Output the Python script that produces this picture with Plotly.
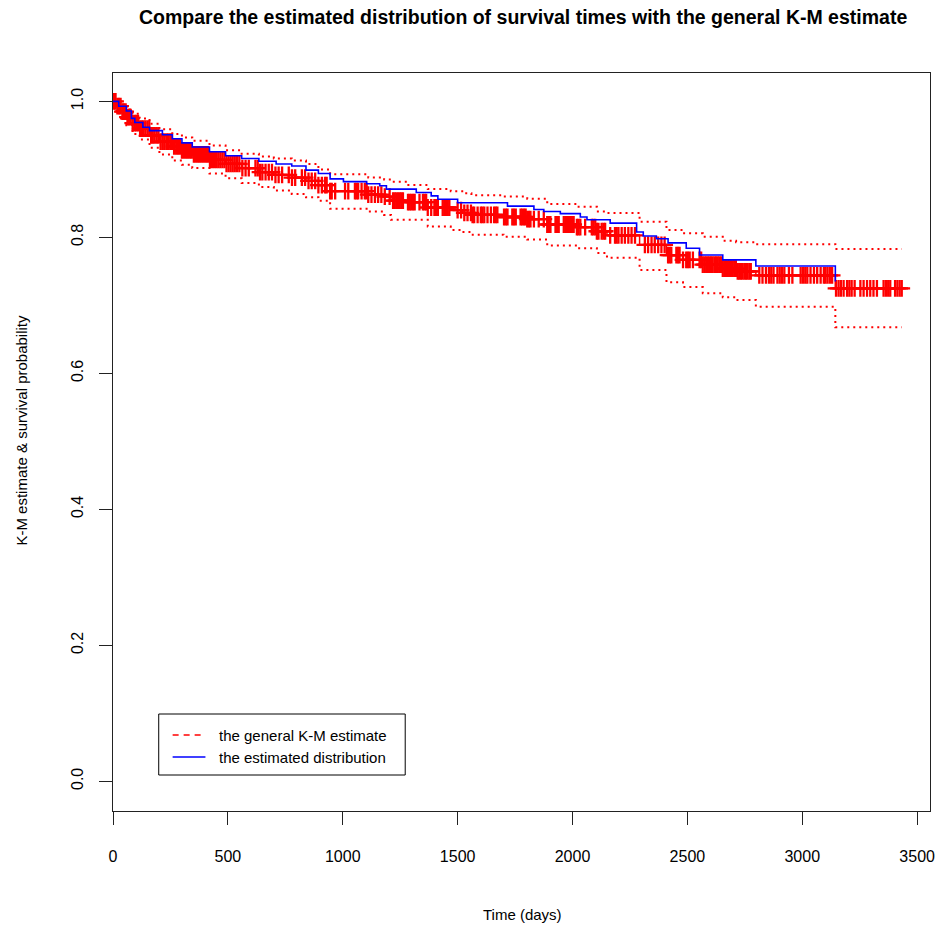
import numpy as np
import plotly.graph_objects as go

# ---- figure geometry (pixels) ----
W, H = 940, 925
ML, MR, MT, MB = 113, 5, 73, 114
PW, PH = W - ML - MR, H - MT - MB

# ---- Kaplan-Meier estimate: event days, survival and 95% limits ----
event_days = [0, 15, 35, 58, 85, 116, 159, 202, 258, 300, 345, 420, 490, 560,
              635, 700, 778, 840, 894, 945, 1111, 1180, 1210, 1280, 1370, 1470,
              1520, 1560, 1700, 1803, 1890, 2019, 2106, 2150, 2292, 2409, 2481,
              2567, 2654, 2712, 2798, 3144]
km_surv = [1.000, 0.993, 0.985, 0.977, 0.968, 0.960, 0.950, 0.941, 0.934, 0.928,
           0.922, 0.914, 0.908, 0.902, 0.896, 0.892, 0.888, 0.883, 0.877, 0.868,
           0.863, 0.860, 0.854, 0.852, 0.844, 0.840, 0.836, 0.833, 0.830, 0.827,
           0.819, 0.815, 0.809, 0.803, 0.789, 0.774, 0.767, 0.760, 0.754, 0.750,
           0.744, 0.725]
km_lower = [1.000, 0.985, 0.975, 0.965, 0.952, 0.944, 0.932, 0.922, 0.913, 0.907,
            0.902, 0.894, 0.887, 0.880, 0.874, 0.869, 0.864, 0.859, 0.854, 0.842,
            0.838, 0.833, 0.826, 0.826, 0.816, 0.811, 0.808, 0.804, 0.801, 0.797,
            0.788, 0.784, 0.777, 0.770, 0.752, 0.734, 0.727, 0.718, 0.712, 0.708,
            0.698, 0.668]
km_upper = [1.000, 0.999, 0.995, 0.988, 0.982, 0.975, 0.967, 0.959, 0.952, 0.947,
            0.942, 0.935, 0.928, 0.923, 0.919, 0.916, 0.913, 0.908, 0.900, 0.893,
            0.888, 0.885, 0.882, 0.877, 0.871, 0.868, 0.865, 0.862, 0.860, 0.857,
            0.849, 0.845, 0.838, 0.836, 0.823, 0.811, 0.806, 0.801, 0.795, 0.793,
            0.790, 0.783]
last_day = 3433

# ---- censored observations (days) ----
censor_days = [
    4, 11, 19, 26, 33, 41, 48, 55, 63, 70, 77, 86, 94, 101, 109, 118, 126, 133,
    141, 150, 158, 166, 173, 181, 190, 198, 207, 215, 223, 232, 240, 249, 257,
    266, 275, 283, 291, 300, 309, 318, 326, 335, 343, 352, 361, 370, 378, 387,
    396, 405, 413, 422, 431, 440, 449, 458, 467, 476, 485, 494, 503, 512, 521,
    530, 540, 550, 563, 577, 591, 620, 630, 640, 650, 664, 678, 692, 707, 721,
    736, 765, 779, 793, 822, 836, 851, 865, 880, 894, 909, 923, 930, 945, 952,
    967, 1010, 1024, 1053, 1060, 1067, 1082, 1096, 1104, 1111, 1125, 1140, 1154,
    1168, 1183, 1204, 1219, 1226, 1233, 1241, 1248, 1255, 1262, 1284, 1291, 1298,
    1306, 1313, 1334, 1349, 1356, 1363, 1370, 1385, 1399, 1406, 1414, 1435, 1442,
    1450, 1457, 1464, 1500, 1515, 1529, 1543, 1558, 1565, 1572, 1587, 1601, 1608,
    1616, 1630, 1645, 1659, 1666, 1673, 1702, 1710, 1717, 1738, 1745, 1753, 1774,
    1781, 1789, 1796, 1803, 1810, 1817, 1832, 1853, 1875, 1890, 1897, 1904, 1926,
    1933, 1940, 1962, 1969, 1976, 1984, 1991, 1998, 2005, 2019, 2026, 2034, 2055,
    2084, 2091, 2099, 2106, 2113, 2127, 2135, 2142, 2164, 2185, 2192, 2200, 2214,
    2228, 2243, 2257, 2272, 2315, 2329, 2344, 2358, 2373, 2387, 2401, 2416, 2423,
    2430, 2452, 2459, 2466, 2481, 2495, 2502, 2510, 2524, 2553, 2560, 2567, 2575,
    2582, 2589, 2596, 2603, 2610, 2618, 2625, 2632, 2639, 2647, 2654, 2661, 2668,
    2676, 2683, 2690, 2697, 2704, 2711, 2719, 2726, 2733, 2740, 2748, 2755, 2762,
    2770, 2776, 2813, 2827, 2842, 2855, 2865, 2875, 2892, 2902, 2912, 2922, 2942,
    2957, 2993, 3003, 3013, 3022, 3036, 3051, 3065, 3080, 3094, 3101, 3110, 3120,
    3130, 3147, 3158, 3168, 3180, 3195, 3205, 3215, 3228, 3253, 3267, 3282, 3296,
    3310, 3325, 3354, 3364, 3374, 3383, 3404, 3414, 3424, 3433]

# ---- estimated (model-based) survival distribution ----
model_days = [0, 25, 58, 80, 95, 130, 159, 215, 258, 300, 345, 420, 490, 560,
              635, 710, 778, 840, 894, 945, 1003, 1104, 1161, 1190, 1320, 1385,
              1414, 1500, 1717, 1832, 1875, 1947, 2034, 2063, 2164, 2279, 2308,
              2365, 2416, 2495, 2553, 2654, 2798, 3144]
model_surv = [1.000, 0.993, 0.986, 0.975, 0.969, 0.962, 0.957, 0.951, 0.945,
              0.939, 0.933, 0.926, 0.920, 0.916, 0.912, 0.908, 0.905, 0.899,
              0.894, 0.886, 0.882, 0.879, 0.876, 0.871, 0.866, 0.861, 0.856,
              0.851, 0.846, 0.841, 0.838, 0.835, 0.830, 0.826, 0.821, 0.808,
              0.802, 0.798, 0.792, 0.784, 0.774, 0.767, 0.758, 0.735]

x_ticks = [0, 500, 1000, 1500, 2000, 2500, 3000, 3500]
y_ticks = [0.0, 0.2, 0.4, 0.6, 0.8, 1.0]
y_ticktext = ["0.0", "0.2", "0.4", "0.6", "0.8", "1.0"]

TITLE = "Compare the estimated distribution of survival times with the general K-M estimate"
X_TITLE = "Time (days)"
Y_TITLE = "K-M estimate & survival probability"
LEGEND_LABELS = ["the general K-M estimate", "the estimated distribution"]

RED, BLUE = "#ff0000", "#0000ff"
FONT = "Liberation Sans, Arial, Helvetica, sans-serif"


def step_ext(values):
    """Extend a step series so its last level runs to the final follow-up day."""
    return list(values) + [values[-1]]


km_x = event_days + [last_day]

# survival level at each censored time
idx = np.searchsorted(np.array(event_days), np.array(censor_days), side="right") - 1
censor_surv = np.array(km_surv)[idx]

fig = go.Figure()

for band in (km_lower, km_upper):
    fig.add_trace(go.Scatter(
        x=km_x, y=step_ext(band), mode="lines", line_shape="hv",
        line=dict(color=RED, width=2, dash="2px,4px"),
        showlegend=False, hoverinfo="skip"))

fig.add_trace(go.Scatter(
    x=km_x, y=step_ext(km_surv), mode="lines", line_shape="hv",
    line=dict(color=RED, width=1.5), showlegend=False))

fig.add_trace(go.Scatter(
    x=censor_days, y=censor_surv, mode="markers",
    marker=dict(symbol="cross-thin", size=12, color=RED,
                line=dict(color=RED, width=2.3)),
    showlegend=False))

fig.add_trace(go.Scatter(
    x=model_days, y=model_surv, mode="lines", line_shape="hv",
    line=dict(color=BLUE, width=1.6), showlegend=False))


def px_x(p):
    return (p - ML) / PW


def px_y(p):
    return (H - MB - p) / PH


# legend box drawn in paper space
shapes = [
    dict(type="rect", xref="paper", yref="paper",
         x0=px_x(159), x1=px_x(407), y0=px_y(775), y1=px_y(714),
         line=dict(color="black", width=1), fillcolor="white"),
    dict(type="line", xref="paper", yref="paper",
         x0=px_x(173), x1=px_x(206), y0=px_y(735), y1=px_y(735),
         line=dict(color=RED, width=1.3, dash="6px,5px")),
    dict(type="line", xref="paper", yref="paper",
         x0=px_x(173), x1=px_x(206), y0=px_y(757), y1=px_y(757),
         line=dict(color=BLUE, width=1.3)),
]

annotations = [
    dict(text=LEGEND_LABELS[0], xref="paper", yref="paper",
         x=px_x(218), y=px_y(735), xanchor="left", yanchor="middle",
         showarrow=False, font=dict(size=15, color="black", family=FONT)),
    dict(text=LEGEND_LABELS[1], xref="paper", yref="paper",
         x=px_x(218), y=px_y(757), xanchor="left", yanchor="middle",
         showarrow=False, font=dict(size=15, color="black", family=FONT)),
    dict(text=X_TITLE, xref="paper", yref="paper",
         x=px_x(525), y=px_y(915), xanchor="center", yanchor="middle",
         showarrow=False, font=dict(size=15, color="black", family=FONT)),
    dict(text=Y_TITLE, xref="paper", yref="paper",
         x=px_x(20), y=px_y(430), xanchor="center", yanchor="middle",
         textangle=-90, showarrow=False,
         font=dict(size=15, color="black", family=FONT)),
    dict(text="<b>" + TITLE + "</b>", xref="paper", yref="paper",
         x=px_x(526), y=px_y(17), xanchor="center", yanchor="middle",
         showarrow=False, font=dict(size=19.5, color="black", family=FONT)),
]

axis_common = dict(
    showgrid=False, zeroline=False, showline=True, mirror=True,
    linecolor="#222222", linewidth=1, ticks="outside", ticklen=13,
    tickwidth=1, tickcolor="#222222",
    tickfont=dict(size=16, color="black", family=FONT),
)

fig.update_layout(
    width=W, height=H,
    margin=dict(l=ML, r=MR, t=MT, b=MB, pad=0),
    paper_bgcolor="white", plot_bgcolor="white",
    font=dict(family=FONT, color="black"),
    xaxis=dict(range=[0, 3556], tickmode="array", tickvals=x_ticks,
               ticklabelstandoff=18, **axis_common),
    yaxis=dict(range=[-0.0437, 1.0418], tickmode="array", tickvals=y_ticks,
               ticktext=y_ticktext, tickangle=-90, ticklabelstandoff=10,
               **axis_common),
    shapes=shapes,
    annotations=annotations,
    showlegend=False,
)

fig.write_html("out.html")
